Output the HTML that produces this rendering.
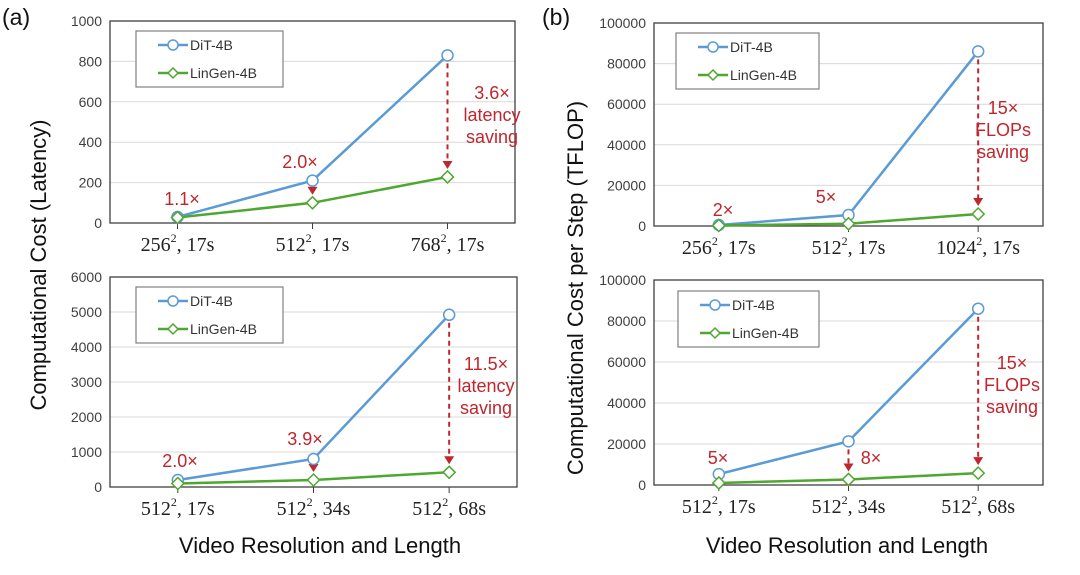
<!DOCTYPE html>
<html><head><meta charset="utf-8"><style>
body{margin:0;background:#fff;}
svg{display:block;font-family:"Liberation Sans",sans-serif;}
</style></head><body>
<svg id="c" width="1080" height="575" viewBox="0 0 1080 575"></svg>
<script>
const catsA1=["256","512","768"], lenA1=["17s","17s","17s"];
const ditA1=[30,210,830], linA1=[27,100,228];
const ticksA1=[0,200,400,600,800,1000];
const catsA2=["512","512","512"], lenA2=["17s","34s","68s"];
const ditA2=[200,800,4920], linA2=[100,200,420];
const ticksA2=[0,1000,2000,3000,4000,5000,6000];
const catsB1=["256","512","1024"], lenB1=["17s","17s","17s"];
const ditB1=[500,5400,86000], linB1=[250,1100,5900];
const ticksB1=[0,20000,40000,60000,80000,100000];
const catsB2=["512","512","512"], lenB2=["17s","34s","68s"];
const ditB2=[5300,21300,86000], linB2=[1000,2700,5800];
const ticksB2=[0,20000,40000,60000,80000,100000];

const NS="http://www.w3.org/2000/svg";
const svg=document.getElementById('c');
function mk(tag,attrs,parent,txt){const e=document.createElementNS(NS,tag);for(const k in attrs)e.setAttribute(k,attrs[k]);if(txt!==undefined)e.textContent=txt;(parent||svg).appendChild(e);return e;}
const RED="#c0262d",BLUE="#5b9bd5",GREEN="#4ea72e";

function panel(id,L,R,T,B,cats,lens,dit,lin,ticks,legX,legY,legW,anns){
  const g=mk('g',{});
  
  
  const ymax=ticks[ticks.length-1];
  const y=v=>B-(v/ymax)*(B-T);
  const step=(R-L)/cats.length;
  const x=i=>L+step*(i+0.5);
  ticks.forEach(t=>{
    if(t>0){const gl=mk('line',{x1:L,x2:R,y1:y(t),y2:y(t),stroke:'#d9d9d9','stroke-width':1},g);
      }
    const tl=mk('text',{x:L-8,y:y(t)+5,'text-anchor':'end','font-size':14,fill:'#404040'},g,String(t));
    
  });
  const frame=mk('rect',{x:L,y:T,width:R-L,height:B-T,fill:'none',stroke:'#404040','stroke-width':1.3},g);
  
  cats.forEach((c,i)=>{
    const tk=mk('line',{x1:x(i),x2:x(i),y1:B,y2:B+6,stroke:'#404040'},g);
    
    const tx=mk('text',{x:x(i),y:B+28,'text-anchor':'middle','font-size':20,fill:'#222','font-family':'"Liberation Serif",serif'},g);
    
    mk('tspan',{},tx,c);
    mk('tspan',{'font-size':12,dy:-9},tx,'2');
    mk('tspan',{dy:9},tx,', '+lens[i]);
  });
  const pl=(arr,col,name)=>{const p=mk('polyline',{points:arr.map((v,i)=>x(i)+','+y(v)).join(' '),fill:'none',stroke:col,'stroke-width':2.5},g);
    };
  pl(dit,BLUE,'dit-line');pl(lin,GREEN,'lingen-line');
  anns.forEach(a=>{
    if(a.arrow){const i=a.idx;const y1=y(dit[i])+8,y2=y(lin[i])-8;
      const ln=mk('line',{x1:x(i),x2:x(i),y1:y1,y2:y2-7,stroke:RED,'stroke-width':2,'stroke-dasharray':'5,4'},g);
      
      const hd=mk('polygon',{points:`${x(i)-5},${y2-8} ${x(i)+5},${y2-8} ${x(i)},${y2}`,fill:RED},g);
      }
    a.lines.forEach((s,k)=>{const t=mk('text',{x:a.x,y:a.y+k*22,'text-anchor':'middle','font-size':18,fill:RED},g,s);
      });
  });
  dit.forEach((v,i)=>{const c=mk('circle',{cx:x(i),cy:y(v),r:5.5,fill:'#fff',stroke:BLUE,'stroke-width':1.5},g);
    });
  lin.forEach((v,i)=>{const d=mk('polygon',{points:`${x(i)},${y(v)-6} ${x(i)+6},${y(v)} ${x(i)},${y(v)+6} ${x(i)-6},${y(v)}`,fill:'#fff',stroke:GREEN,'stroke-width':1.5},g);
    });
  const lg=mk('g',{},g);
  
  mk('rect',{x:legX,y:legY,width:legW,height:56,fill:'#fff',stroke:'#808080','stroke-width':1.2},lg);
  mk('line',{x1:legX+22,x2:legX+52,y1:legY+14,y2:legY+14,stroke:BLUE,'stroke-width':2.5},lg);
  mk('circle',{cx:legX+37,cy:legY+14,r:5,fill:'#fff',stroke:BLUE,'stroke-width':1.5},lg);
  const e1=mk('text',{x:legX+54,y:legY+19,'font-size':14,fill:'#333'},lg,'DiT-4B');
  
  mk('line',{x1:legX+22,x2:legX+52,y1:legY+42,y2:legY+42,stroke:GREEN,'stroke-width':2.5},lg);
  const cx=legX+37,cy=legY+42;
  mk('polygon',{points:`${cx},${cy-5} ${cx+5},${cy} ${cx},${cy+5} ${cx-5},${cy}`,fill:'#fff',stroke:GREEN,'stroke-width':1.5},lg);
  const e2=mk('text',{x:legX+54,y:legY+47,'font-size':14,fill:'#333'},lg,'LinGen-4B');
  
}

panel('latency-top',110,515,21,223,catsA1,lenA1,ditA1,linA1,ticksA1,136,31,147,[
  {x:182,y:205,lines:['1.1×']},{idx:1,arrow:true,x:300,y:168,lines:['2.0×']},
  {idx:2,arrow:true,x:492,y:99,lines:['3.6×','latency','saving']}]);
panel('latency-bottom',110,517,277,487,catsA2,lenA2,ditA2,linA2,ticksA2,136,287,147,[
  {x:180,y:467,lines:['2.0×']},{idx:1,arrow:true,x:305,y:445,lines:['3.9×']},
  {idx:2,arrow:true,x:486,y:370,lines:['11.5×','latency','saving']}]);
panel('flops-top',654,1043,23,226,catsB1,lenB1,ditB1,linB1,ticksB1,676,33,143,[
  {x:723,y:216,lines:['2×']},{x:826,y:203,lines:['5×']},
  {idx:2,arrow:true,x:1003,y:114,lines:['15×','FLOPs','saving']}]);
panel('flops-bottom',654,1043,280,485,catsB2,lenB2,ditB2,linB2,ticksB2,678,291,141,[
  {x:718,y:464,lines:['5×']},{idx:1,arrow:true,x:871,y:464,lines:['8×']},
  {idx:2,arrow:true,x:1012,y:369,lines:['15×','FLOPs','saving']}]);

const texts=[
 ['panel-a-label',2,25,'(a)',23,'start',0],['panel-b-label',542,25,'(b)',23,'start',0],
 ['x-axis-title-left',320,553,'Video Resolution and Length',22,'middle',0],
 ['x-axis-title-right',847,553,'Video Resolution and Length',22,'middle',0]];
texts.forEach(t=>{const e=mk('text',{x:t[1],y:t[2],'font-size':t[4],'text-anchor':t[5],fill:'#111'},svg,t[3]);
  });
const ya=mk('text',{x:0,y:0,transform:'translate(46,265) rotate(-90)','font-size':22,'text-anchor':'middle',fill:'#111'},svg,'Computational Cost (Latency)');

const yb=mk('text',{x:0,y:0,transform:'translate(583,288) rotate(-90)','font-size':22,'text-anchor':'middle',fill:'#111'},svg,'Computational Cost per Step (TFLOP)');

</script>
</body></html>
